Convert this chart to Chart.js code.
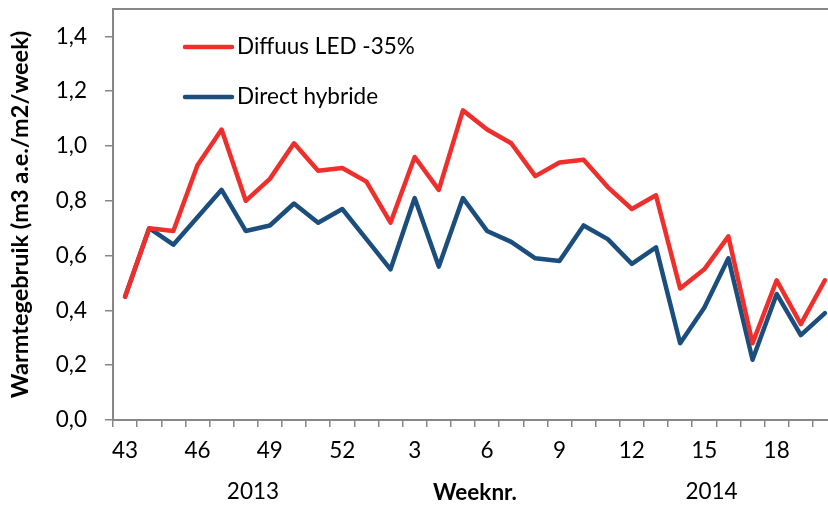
<!DOCTYPE html>
<html lang="nl">
<head>
<meta charset="UTF-8">
<title>Warmtegebruik</title>
<script src="https://cdn.jsdelivr.net/npm/chart.js"></script>
<style>
  html, body { margin: 0; padding: 0; background: #fff; overflow: hidden; }
  .wrap { width: 828px; height: 506px; overflow: hidden; }
</style>
</head>
<body>
<div class="wrap"><canvas id="warmte" width="845" height="506"></canvas></div>
<script>
// weeknummers: 43-52 (2013), 1-20 (2014)
const weeks = ['43','44','45','46','47','48','49','50','51','52',
               '1','2','3','4','5','6','7','8','9','10',
               '11','12','13','14','15','16','17','18','19','20'];
const diffuusLed = [0.45,0.70,0.69,0.93,1.06,0.80,0.88,1.01,0.91,0.92,
                    0.87,0.72,0.96,0.84,1.13,1.06,1.01,0.89,0.94,0.95,
                    0.85,0.77,0.82,0.48,0.55,0.67,0.28,0.51,0.35,0.51];
const directHybride = [0.45,0.70,0.64,0.74,0.84,0.69,0.71,0.79,0.72,0.77,
                       0.66,0.55,0.81,0.56,0.81,0.69,0.65,0.59,0.58,0.71,
                       0.66,0.57,0.63,0.28,0.41,0.59,0.22,0.46,0.31,0.39];
const years = ['2013', '2014'];

const GREY = '#878787';
const FONT = 'Lato, "Liberation Sans", sans-serif';

// frame, legend in de plot en jaartallen
const extras = {
  id: 'extras',
  afterDraw(chart) {
    const ctx = chart.ctx;
    const a = chart.chartArea;
    ctx.save();
    ctx.strokeStyle = GREY;
    ctx.lineWidth = 2;
    ctx.beginPath();
    ctx.moveTo(a.left, a.top);
    ctx.lineTo(a.right, a.top);
    ctx.lineTo(a.right, a.bottom);
    ctx.stroke();

    // legenda
    chart.data.datasets.forEach((ds, i) => {
      const y = 47 + i * 50;
      ctx.strokeStyle = ds.borderColor;
      ctx.lineWidth = 4.5;
      ctx.lineCap = 'round';
      ctx.beginPath();
      ctx.moveTo(185, y);
      ctx.lineTo(232, y);
      ctx.stroke();
      ctx.fillStyle = '#000';
      ctx.font = '22.5px ' + FONT;
      ctx.textBaseline = 'middle';
      ctx.textAlign = 'left';
      ctx.fillText(ds.label, 237, y);
    });

    // jaartallen onder de as
    const xs = chart.scales.x;
    const step = xs.getPixelForValue(1) - xs.getPixelForValue(0);
    const pos = [5.3, 24.3];
    ctx.fillStyle = '#000';
    ctx.font = '22.5px ' + FONT;
    ctx.textAlign = 'center';
    ctx.textBaseline = 'middle';
    years.forEach((t, i) => {
      ctx.fillText(t, xs.getPixelForValue(0) + pos[i] * step, 492);
    });
    ctx.restore();
  }
};

new Chart(document.getElementById('warmte'), {
  type: 'line',
  data: {
    labels: weeks,
    datasets: [
      { label: 'Diffuus LED -35%', data: diffuusLed, borderColor: '#EE2F2C' },
      { label: 'Direct hybride', data: directHybride, borderColor: '#1B4E7C' }
    ]
  },
  options: {
    responsive: false,
    animation: false,
    layout: { padding: { top: 9, right: 8, left: 0, bottom: 0 } },
    elements: {
      point: { radius: 0 },
      line: { borderWidth: 4.5, tension: 0, borderJoinStyle: 'round', borderCapStyle: 'round', fill: false }
    },
    plugins: { legend: { display: false }, tooltip: { enabled: false } },
    scales: {
      x: {
        offset: true,
        afterFit(s) { s.height = 86; s.paddingLeft = 0; s.paddingRight = 0; },
        grid: { offset: true, drawOnChartArea: false, color: GREY, tickLength: 7, lineWidth: 1.5 },
        border: { color: GREY, width: 2 },
        ticks: {
          autoSkip: false, maxRotation: 0, padding: 10, color: '#000',
          font: { family: FONT, size: 22.5 },
          callback: (v, i) => (i % 3 === 0 ? weeks[i] : '')
        },
        title: {
          display: true, text: 'Weeknr.', color: '#000',
          font: { family: FONT, size: 22.5, weight: 'bold' },
          padding: { top: 0, bottom: 0 }
        }
      },
      y: {
        min: 0, max: 1.5,
        afterFit(s) { s.width = 113; s.paddingTop = 0; s.paddingBottom = 0; },
        afterBuildTicks(s) { s.ticks = s.ticks.filter(t => t.value <= 1.4001); },
        grid: { drawOnChartArea: false, color: GREY, tickLength: 8, lineWidth: 1.5 },
        border: { color: GREY, width: 2 },
        ticks: {
          stepSize: 0.2, padding: 18, color: '#000',
          font: { family: FONT, size: 22.5 },
          callback: v => v.toFixed(1).replace('.', ',')
        },
        title: {
          display: true, text: 'Warmtegebruik (m3 a.e./m2/week)', color: '#000',
          font: { family: FONT, size: 23.5, weight: 'bold' },
          padding: { top: 6, bottom: 0 }
        }
      }
    }
  },
  plugins: [extras]
});
</script>
</body>
</html>
